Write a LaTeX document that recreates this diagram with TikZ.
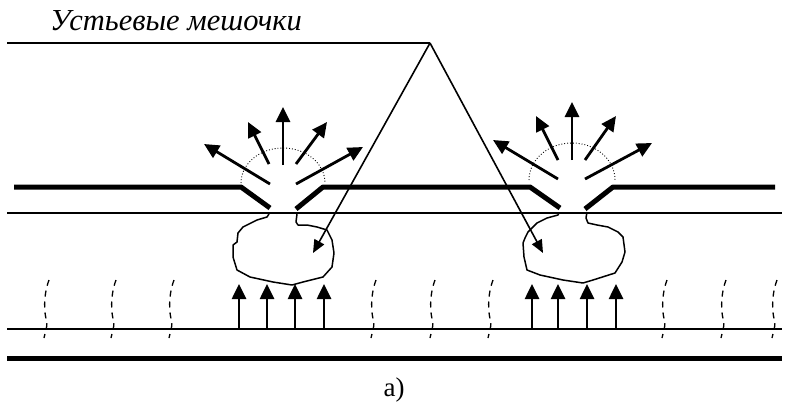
\documentclass[tikz,border=0pt]{standalone}
\usepackage{fontspec}
\setmainfont{Liberation Serif}
\usetikzlibrary{arrows.meta}
\begin{document}
\begin{tikzpicture}[x=1pt,y=-1pt,
  thin line/.style={line width=1.5pt},
  membrane/.style={line width=5pt},
  ray/.style={line width=2.8pt,-{Triangle[length=15pt,width=14pt]}},
  flow/.style={line width=2.6pt,-{Triangle[length=15pt,width=14pt]}},
  pointer/.style={line width=1.6pt,-{Triangle[length=13pt,width=11pt]}},
  blob/.style={line width=1.5pt,line join=round},
  halo/.style={line width=0.9pt,dotted},
  fibre/.style={line width=1.3pt,dash pattern=on 6pt off 5pt},
  lab/.style={font=\fontsize{30.5}{34}\selectfont},
  captext/.style={font=\fontsize{27}{31}\selectfont}]
\useasboundingbox (0,0) rectangle (789,413);

% label and its leader lines
\node[lab,anchor=base west,inner sep=0pt] (title) at (50,30) {\itshape Устьевые мешочки};
\coordinate (lead) at (7,43);
\coordinate (apex) at (430,43);
\coordinate (tipL) at (313,253);
\coordinate (tipR) at (543,253);
\draw[thin line] (lead) -- (apex);
\draw[pointer] (apex) -- (tipL);
\draw[pointer] (apex) -- (tipR);

% upper membrane with two pores
\draw[membrane,line join=round] (14,187) -- (241,187) -- (270,208);
\draw[membrane,line join=round] (296,209) -- (323,187) -- (530,187) -- (560,208);
\draw[membrane,line join=round] (585,209) -- (613,187) -- (775,187);
\draw[thin line] (7,213) -- (782,213);

% lower boundary
\draw[thin line] (7,329) -- (782,329);
\draw[line width=5pt] (7,358) -- (782,358);

% sacs below the pores
\draw[blob] (269,214) -- (267,217) -- (257,220) -- (243,227) -- (238,233) -- (237,242)
  -- (233,245) -- (233,257) -- (237,270) -- (250,277) -- (273,282) -- (292,285)
  -- (303,282) -- (323,277) -- (332,267) -- (334,253) -- (332,240) -- (327,230)
  -- (317,227) -- (307,225) -- (298,225) -- (296,222) -- (297,214);
\draw[blob] (559,213) -- (558,215) -- (547,218) -- (537,223) -- (528,232) -- (525,238)
  -- (523,243) -- (524,257) -- (527,270) -- (540,275) -- (563,280) -- (583,283)
  -- (593,280) -- (615,273) -- (622,262) -- (625,252) -- (623,237) -- (618,232)
  -- (608,227) -- (597,225) -- (588,223) -- (586,218) -- (587,212);

% dotted halos over the pores
\draw[halo] (241,183) arc[start angle=180,end angle=360,x radius=42,y radius=35];
\draw[halo] (529,180) arc[start angle=180,end angle=360,x radius=43,y radius=37];

% rays leaving the left pore
\draw[ray] (283,165) -- (283,107);
\draw[ray] (269,164) -- (248,122);
\draw[ray] (296,164) -- (327,122);
\draw[ray] (270,184) -- (204,144);
\draw[ray] (296,184) -- (363,147);

% rays leaving the right pore
\draw[ray] (572,160) -- (572,102);
\draw[ray] (558,160) -- (536,116);
\draw[ray] (585,160) -- (616,116);
\draw[ray] (558,179) -- (493,140);
\draw[ray] (585,179) -- (652,143);

% upward flow under the sacs
\foreach \x in {239,267,295,324,532,558,587,616}
  \draw[flow] (\x,329) -- (\x,284);

% wavy dashed fibres
\foreach \x in {45,112,170,372,431,489,663,722,773}
  \draw[fibre] (\x+4,280) .. controls (\x-2,296) and (\x-1,314) .. (\x+2,322)
    .. controls (\x+2,328) and (\x,333) .. (\x-1,338);

% caption
\node[captext,anchor=base,inner sep=0pt] (caption) at (394,396) {a)};
\end{tikzpicture}
\end{document}
